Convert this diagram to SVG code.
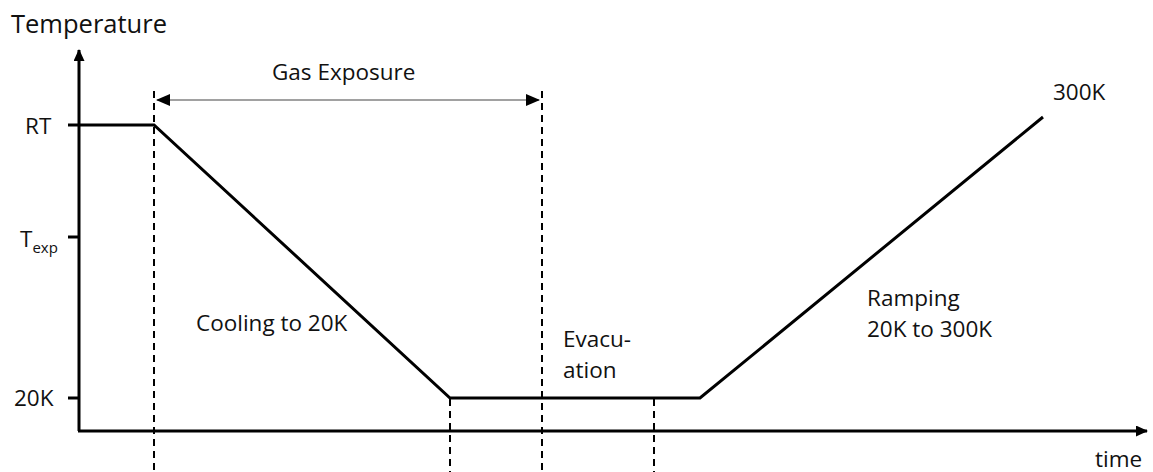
<svg xmlns="http://www.w3.org/2000/svg" width="1153" height="472" viewBox="0 0 1153 472">
<style>
text{font-family:"Open Sans","Noto Sans",sans-serif;fill:#111;font-size:22.5px}
.ax{stroke:#000;stroke-width:3;fill:none}
.pl{stroke:#000;stroke-width:3;fill:none}
.da{stroke:#000;stroke-width:2;stroke-dasharray:7,5;fill:none}
.th{stroke:#444;stroke-width:1.2;fill:none}
</style>
<defs>
<marker id="ah" markerWidth="12" markerHeight="11" refX="11" refY="5.5" orient="auto" markerUnits="userSpaceOnUse">
<path d="M0,0 L12,5.5 L0,11 Z" fill="#000"/>
</marker>
<marker id="as" markerWidth="14" markerHeight="12" refX="13" refY="6" orient="auto-start-reverse" markerUnits="userSpaceOnUse">
<path d="M0,0 L14,6 L0,12 Z" fill="#000"/>
</marker>
</defs>
<rect width="1153" height="472" fill="#fff"/>
<g id="axes">
<line class="ax" x1="79" y1="431" x2="79" y2="50" marker-end="url(#ah)"/>
<line class="ax" x1="78" y1="431" x2="1147" y2="431" marker-end="url(#ah)"/>
<line class="ax" x1="68" y1="237" x2="79" y2="237"/>
<line class="ax" x1="68" y1="398" x2="79" y2="398"/>
<text x="11" y="33" style="font-size:25.5px">Temperature</text>
<text x="25" y="134">RT</text>
<text x="20" y="247">T<tspan dy="6" style="font-size:15px">exp</tspan></text>
<text x="14" y="406">20K</text>
<text x="1095" y="467">time</text>
</g>
<g id="connectors">
<line class="da" x1="154" y1="91" x2="154" y2="472"/>
<line class="da" x1="542" y1="91" x2="542" y2="472"/>
<line class="da" x1="450" y1="399" x2="450" y2="472"/>
<line class="da" x1="654" y1="399" x2="654" y2="472"/>
<line class="th" x1="157" y1="100" x2="539" y2="100" marker-start="url(#as)" marker-end="url(#as)"/>
</g>
<g id="curve">
<polyline class="pl" points="68,125 154,125 450,398 700,398 1043,117"/>
</g>
<g id="gas-exposure"><text x="272" y="80">Gas Exposure</text></g>
<g id="cooling"><text x="196" y="331">Cooling to 20K</text></g>
<g id="evacuation"><text x="563" y="347">Evacu-</text><text x="563" y="378">ation</text></g>
<g id="ramping"><text x="867" y="306">Ramping</text><text x="867" y="337">20K to 300K</text></g>
<g id="label-300k"><text x="1053" y="100">300K</text></g>
</svg>
